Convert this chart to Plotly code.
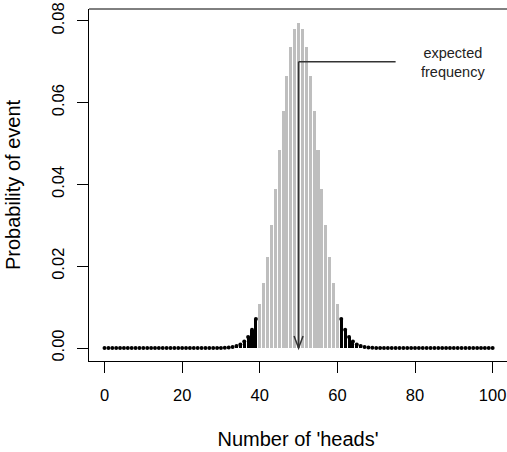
import plotly.graph_objects as go

heads = list(range(0, 101))
# probability (symmetric around 50)
half = [0.0] * 29 + [0.00001, 0.00002, 0.00005, 0.00011, 0.00023, 0.00046, 0.00086,
                     0.00156, 0.00270, 0.00447, 0.00711, 0.01084, 0.01587, 0.02229,
                     0.03007, 0.03895, 0.04847, 0.05796, 0.06659, 0.07353, 0.07803]
prob = half + [0.07959] + half[::-1]

lower_cut = 40
upper_cut = 60
x_ticks = [0, 20, 40, 60, 80, 100]
y_ticks = [0.00, 0.02, 0.04, 0.06, 0.08]
y_tick_text = ["0.00", "0.02", "0.04", "0.06", "0.08"]
expected = 50
label_y = 0.07

mid_x = [h for h in heads if lower_cut <= h <= upper_cut]
mid_y = [p for h, p in zip(heads, prob) if lower_cut <= h <= upper_cut]
tail_x = [h for h in heads if h < lower_cut or h > upper_cut]
tail_y = [p for h, p in zip(heads, prob) if h < lower_cut or h > upper_cut]

FONT = "Liberation Sans, Arial, sans-serif"

fig = go.Figure()
fig.add_trace(go.Bar(x=mid_x, y=mid_y, width=0.78, marker=dict(color="#BEBEBE", line=dict(width=0)),
                     showlegend=False))
fig.add_trace(go.Bar(x=tail_x, y=tail_y, width=0.78, marker=dict(color="black", line=dict(width=0)),
                     showlegend=False))
fig.add_trace(go.Scatter(x=tail_x, y=tail_y, mode="markers",
                         marker=dict(color="black", size=4, line=dict(width=0)), showlegend=False))

# arrow shaft and pointer line
fig.add_shape(type="line", x0=expected, x1=expected, y0=label_y, y1=0, xref="x", yref="y",
              line=dict(color="#333333", width=1.5))
fig.add_shape(type="line", x0=expected, x1=75, y0=label_y, y1=label_y, xref="x", yref="y",
              line=dict(color="#333333", width=1.5))
# open V arrowhead
fig.add_shape(type="path", xref="x", yref="y", xsizemode="pixel", ysizemode="pixel",
              xanchor=expected, yanchor=0, path="M -4.5,12 L 0,0 L 4.5,12",
              line=dict(color="#333333", width=1.5))
# top border
fig.add_shape(type="line", xref="paper", yref="paper", x0=0, x1=1, y0=1, y1=1,
              line=dict(color="black", width=1))

fig.add_annotation(x=89.7, y=0.0697, xref="x", yref="y", text="expected<br>frequency",
                   showarrow=False, font=dict(family=FONT, size=14.5, color="#222222"),
                   align="center")

fig.update_layout(
    width=507, height=452,
    margin=dict(l=89, r=0, t=9, b=91),
    plot_bgcolor="white", paper_bgcolor="white",
    bargap=0, barmode="overlay",
    font=dict(family=FONT, size=16.5, color="black"),
)
fig.update_xaxes(range=[-4, 103.7], tickvals=x_ticks, ticks="outside", ticklen=11, tickwidth=1,
                 tickcolor="black", showline=True, linecolor="black", linewidth=1, mirror=False,
                 showgrid=False, zeroline=False, ticklabelstandoff=8,
                 title=dict(text="Number of 'heads'", standoff=29))
fig.update_yaxes(range=[-0.00318, 0.0829], tickvals=y_ticks, ticktext=y_tick_text, tickangle=-90,
                 ticks="outside", ticklen=11, tickwidth=1, tickcolor="black", showline=True,
                 linecolor="black", linewidth=1, mirror=False, showgrid=False, zeroline=False,
                 ticklabelstandoff=6, title=dict(text="Probability of event", standoff=23))

fig.write_html("out.html")
